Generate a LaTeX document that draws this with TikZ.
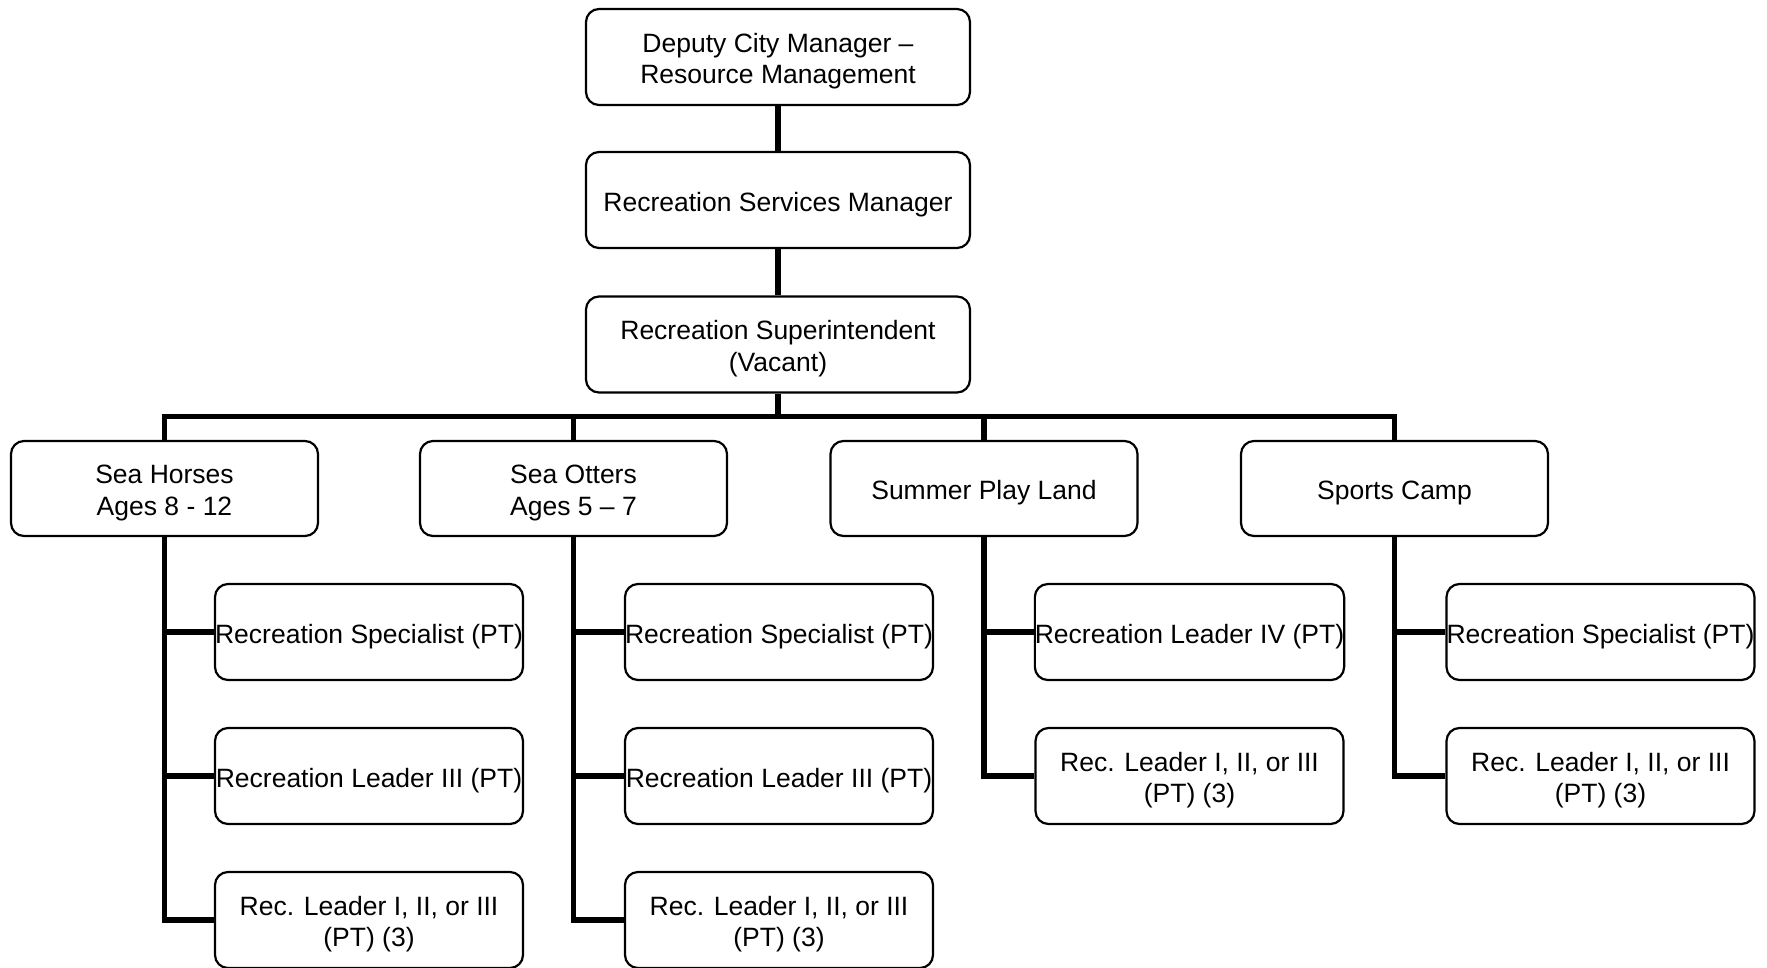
\documentclass[tikz,border=0pt]{standalone}
\usepackage{fontspec}
\setmainfont{Liberation Sans}
\begin{document}
\begin{tikzpicture}[x=1pt,y=-1pt,
  box/.style={draw, line width=2.2pt, rounded corners=13pt, inner sep=0pt,
    align=center, font=\fontsize{26.5}{31.5}\selectfont,
    text height=29pt, text depth=7pt},
  twoline/.style={text height=60pt},
  topbox/.style={box, minimum width=384pt, minimum height=96pt},
  unitbox/.style={box, minimum width=307pt, minimum height=95pt},
  rolebox/.style={box, minimum width=308pt, minimum height=96pt},
  conn/.style={line width=5.5pt, line join=miter}]
\useasboundingbox (0,0) rectangle (1767,967);

% Management chain
\node[topbox, twoline] (dcm) at (778,57) {Deputy City Manager --\\Resource Management};
\node[topbox] (rsm) at (778,200) {Recreation Services Manager};
\node[topbox, twoline] (sup) at (778,344.5) {Recreation Superintendent\\(Vacant)};

% Programme units
\node[unitbox, twoline] (seah) at (164.5,488.5) {Sea Horses\\Ages 8 - 12};
\node[unitbox, twoline] (seao) at (573.5,488.5) {Sea Otters\\Ages 5 -- 7};
\node[unitbox] (spl)  at (984,488.5)   {Summer Play Land};
\node[unitbox] (spc)  at (1394.5,488.5) {Sports Camp};

% Staff under Sea Horses
\node[rolebox] (h1) at (369,632) {Recreation Specialist (PT)};
\node[rolebox] (h2) at (369,776) {Recreation Leader III (PT)};
\node[rolebox, twoline] (h3) at (369,920) {Rec. Leader I, II, or III\\(PT) (3)};
% Staff under Sea Otters
\node[rolebox] (o1) at (779,632) {Recreation Specialist (PT)};
\node[rolebox] (o2) at (779,776) {Recreation Leader III (PT)};
\node[rolebox, twoline] (o3) at (779,920) {Rec. Leader I, II, or III\\(PT) (3)};
% Staff under Summer Play Land
\node[rolebox] (p1) at (1189.5,632) {Recreation Leader IV (PT)};
\node[rolebox, twoline] (p2) at (1189.5,776) {Rec. Leader I, II, or III\\(PT) (3)};
% Staff under Sports Camp
\node[rolebox] (s1) at (1600.5,632) {Recreation Specialist (PT)};
\node[rolebox, twoline] (s2) at (1600.5,776) {Rec. Leader I, II, or III\\(PT) (3)};

% Chain connectors
\draw[conn] (dcm.south) -- (rsm.north);
\draw[conn] (rsm.south) -- (sup.north);

% Bus to units
\coordinate (bus) at (0,416.5);
\draw[conn] (sup.south) -- (sup.south |- bus);
\draw[conn] (seah.north) -- (seah.north |- bus) -- (spc.north |- bus) -- (spc.north);
\draw[conn] (seao.north) -- (seao.north |- bus);
\draw[conn] (spl.north) -- (spl.north |- bus);

% Unit trunks to staff
\draw[conn] (seah.south) |- (h3.west);
\draw[conn] (seah.south |- h1.west) -- (h1.west);
\draw[conn] (seah.south |- h2.west) -- (h2.west);

\draw[conn] (seao.south) |- (o3.west);
\draw[conn] (seao.south |- o1.west) -- (o1.west);
\draw[conn] (seao.south |- o2.west) -- (o2.west);

\draw[conn] (spl.south) |- (p2.west);
\draw[conn] (spl.south |- p1.west) -- (p1.west);

\draw[conn] (spc.south) |- (s2.west);
\draw[conn] (spc.south |- s1.west) -- (s1.west);
\end{tikzpicture}
\end{document}
